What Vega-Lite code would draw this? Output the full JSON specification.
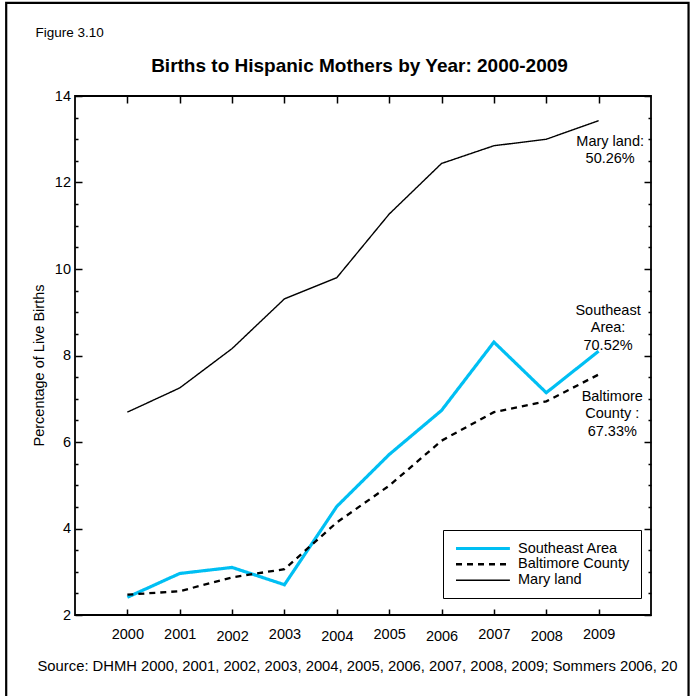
{
  "$schema": "https://vega.github.io/schema/vega-lite/v6.json",
  "width": 576,
  "height": 519,
  "autosize": {"type": "none"},
  "padding": {"left": 75, "top": 96, "right": 40, "bottom": 81},
  "background": "white",
  "config": {
    "font": "Liberation Sans",
    "view": {"stroke": "black", "strokeWidth": 1.8},
    "axis": {"grid": false, "domain": false, "tickColor": "black", "tickWidth": 1.5, "labelColor": "black", "titleColor": "black", "labelFont": "Liberation Sans", "titleFont": "Liberation Sans", "labelFontSize": 14.5, "titleFontSize": 14.5, "titleFontWeight": "normal", "labelFlush": false, "labelOverlap": false},
    "legend": {"orient": "none", "legendX": 368, "legendY": 434, "strokeColor": "black", "fillColor": "white", "padding": 11, "labelFontSize": 14.5, "labelFont": "Liberation Sans", "labelColor": "black", "symbolType": "M-1,0H8.8", "symbolSize": 121, "rowPadding": 1, "labelOffset": 49, "cornerRadius": 0}
  },
  "datasets": {
    "series": [
      {"year": 2000, "area": "Southeast Area", "pct": 2.41},
      {"year": 2001, "area": "Southeast Area", "pct": 2.96},
      {"year": 2002, "area": "Southeast Area", "pct": 3.10},
      {"year": 2003, "area": "Southeast Area", "pct": 2.70},
      {"year": 2004, "area": "Southeast Area", "pct": 4.51},
      {"year": 2005, "area": "Southeast Area", "pct": 5.71},
      {"year": 2006, "area": "Southeast Area", "pct": 6.73},
      {"year": 2007, "area": "Southeast Area", "pct": 8.31},
      {"year": 2008, "area": "Southeast Area", "pct": 7.14},
      {"year": 2009, "area": "Southeast Area", "pct": 8.10},
      {"year": 2000, "area": "Baltimore County", "pct": 2.47},
      {"year": 2001, "area": "Baltimore County", "pct": 2.55},
      {"year": 2002, "area": "Baltimore County", "pct": 2.87},
      {"year": 2003, "area": "Baltimore County", "pct": 3.06},
      {"year": 2004, "area": "Baltimore County", "pct": 4.14},
      {"year": 2005, "area": "Baltimore County", "pct": 4.99},
      {"year": 2006, "area": "Baltimore County", "pct": 6.03},
      {"year": 2007, "area": "Baltimore County", "pct": 6.69},
      {"year": 2008, "area": "Baltimore County", "pct": 6.94},
      {"year": 2009, "area": "Baltimore County", "pct": 7.56},
      {"year": 2000, "area": "Mary land", "pct": 6.69},
      {"year": 2001, "area": "Mary land", "pct": 7.25},
      {"year": 2002, "area": "Mary land", "pct": 8.16},
      {"year": 2003, "area": "Mary land", "pct": 9.31},
      {"year": 2004, "area": "Mary land", "pct": 9.80},
      {"year": 2005, "area": "Mary land", "pct": 11.27},
      {"year": 2006, "area": "Mary land", "pct": 12.44},
      {"year": 2007, "area": "Mary land", "pct": 12.85},
      {"year": 2008, "area": "Mary land", "pct": 13.00},
      {"year": 2009, "area": "Mary land", "pct": 13.43}
    ],
    "notes": [
      {"year": 2009.22, "pct": 12.85, "label": "Mary land:\n50.26%"},
      {"year": 2009.18, "pct": 8.94, "label": "Southeast\nArea:\n70.52%"},
      {"year": 2009.26, "pct": 6.95, "label": "Baltimore\nCounty :\n67.33%"}
    ],
    "frame": [{"x1": 1997.686, "x2": 2010.717, "y1": 16.153, "y2": 0}]
  },
  "layer": [
    {
      "data": {"name": "series"},
      "mark": {"type": "line"},
      "encoding": {
        "x": {"field": "year", "type": "quantitative", "scale": {"domain": [1999, 2010], "nice": false, "zero": false},
          "axis": {"orient": "bottom", "values": [2000, 2001, 2002, 2003, 2004, 2005, 2006, 2007, 2008, 2009], "format": "d", "tickSize": -6, "labelBaseline": "top",
            "labelPadding": {"condition": {"test": "datum.value % 2 === 0 && datum.value > 2000", "value": 20.7}, "value": 18.2},
            "title": "Source: DHMH 2000, 2001, 2002, 2003, 2004, 2005, 2006, 2007, 2008, 2009; Sommers 2006, 20",
            "titleX": -38, "titleY": 55, "titleAnchor": "start", "titleAlign": "left", "titleBaseline": "alphabetic", "titleFontSize": 14.8}},
        "y": {"field": "pct", "type": "quantitative", "scale": {"domain": [2, 14], "nice": false, "zero": false},
          "axis": {"orient": "left", "values": [2, 2.5, 3, 3.5, 4, 4.5, 5, 5.5, 6, 6.5, 7, 7.5, 8, 8.5, 9, 9.5, 10, 10.5, 11, 11.5, 12, 12.5, 13, 13.5, 14],
            "labelExpr": "datum.value % 2 === 0 ? format(datum.value, 'd') : ''",
            "tickSize": {"condition": {"test": "datum.value % 2 === 0", "value": -7}, "value": -3},
            "labelPadding": 11.5, "labelBaseline": "middle",
            "title": "Percentage of Live Births", "titleX": -31.7, "titleY": 269, "titleAngle": -90, "titleAlign": "center", "titleBaseline": "alphabetic"}},
        "color": {"field": "area", "type": "nominal", "scale": {"domain": ["Southeast Area", "Baltimore County", "Mary land"], "range": ["#00BFF3", "#000000", "#000000"]}, "legend": {"title": null}},
        "strokeDash": {"field": "area", "type": "nominal", "scale": {"domain": ["Southeast Area", "Baltimore County", "Mary land"], "range": [[1, 0], [6, 5], [1, 0]]}, "legend": {"title": null}},
        "strokeWidth": {"field": "area", "type": "ordinal", "scale": {"domain": ["Southeast Area", "Baltimore County", "Mary land"], "range": [3.2, 1.4, 1.4]}, "legend": {"title": null}}
      }
    },
    {
      "data": {"name": "notes"},
      "mark": {"type": "text", "align": "center", "baseline": "alphabetic", "fontSize": 14.5, "lineBreak": "\n", "lineHeight": 17.5, "color": "black", "font": "Liberation Sans"},
      "encoding": {
        "x": {"field": "year", "type": "quantitative", "scale": {"domain": [1999, 2010], "nice": false, "zero": false},
          "axis": {"orient": "top", "values": [2000, 2001, 2002, 2003, 2004, 2005, 2006, 2007, 2008, 2009], "tickSize": -7, "labels": false,
            "title": "Births to Hispanic Mothers by Year: 2000-2009", "titleFontSize": 19, "titleFontWeight": "bold",
            "titleX": 284, "titleY": -25, "titleAlign": "center", "titleBaseline": "alphabetic"}},
        "y": {"field": "pct", "type": "quantitative", "scale": {"domain": [2, 14], "nice": false, "zero": false},
          "axis": {"orient": "right", "values": [2, 2.5, 3, 3.5, 4, 4.5, 5, 5.5, 6, 6.5, 7, 7.5, 8, 8.5, 9, 9.5, 10, 10.5, 11, 11.5, 12, 12.5, 13, 13.5, 14],
            "labels": false,
            "tickSize": {"condition": {"test": "datum.value % 2 === 0", "value": -7}, "value": -3},
            "title": "Figure 3.10", "titleX": -616, "titleY": -60, "titleAngle": 0, "titleAlign": "left", "titleBaseline": "alphabetic", "titleFontSize": 13.5}},
        "text": {"field": "label", "type": "nominal"}
      }
    },
    {
      "data": {"name": "frame"},
      "mark": {"type": "rect", "filled": false, "stroke": "black", "strokeWidth": 2.2, "clip": false},
      "encoding": {
        "x": {"field": "x1", "type": "quantitative", "scale": {"domain": [1999, 2010], "nice": false, "zero": false}, "axis": null},
        "x2": {"field": "x2"},
        "y": {"field": "y1", "type": "quantitative", "scale": {"domain": [2, 14], "nice": false, "zero": false}, "axis": null},
        "y2": {"field": "y2"}
      }
    }
  ],
  "resolve": {"axis": {"x": "independent", "y": "independent"}}
}
